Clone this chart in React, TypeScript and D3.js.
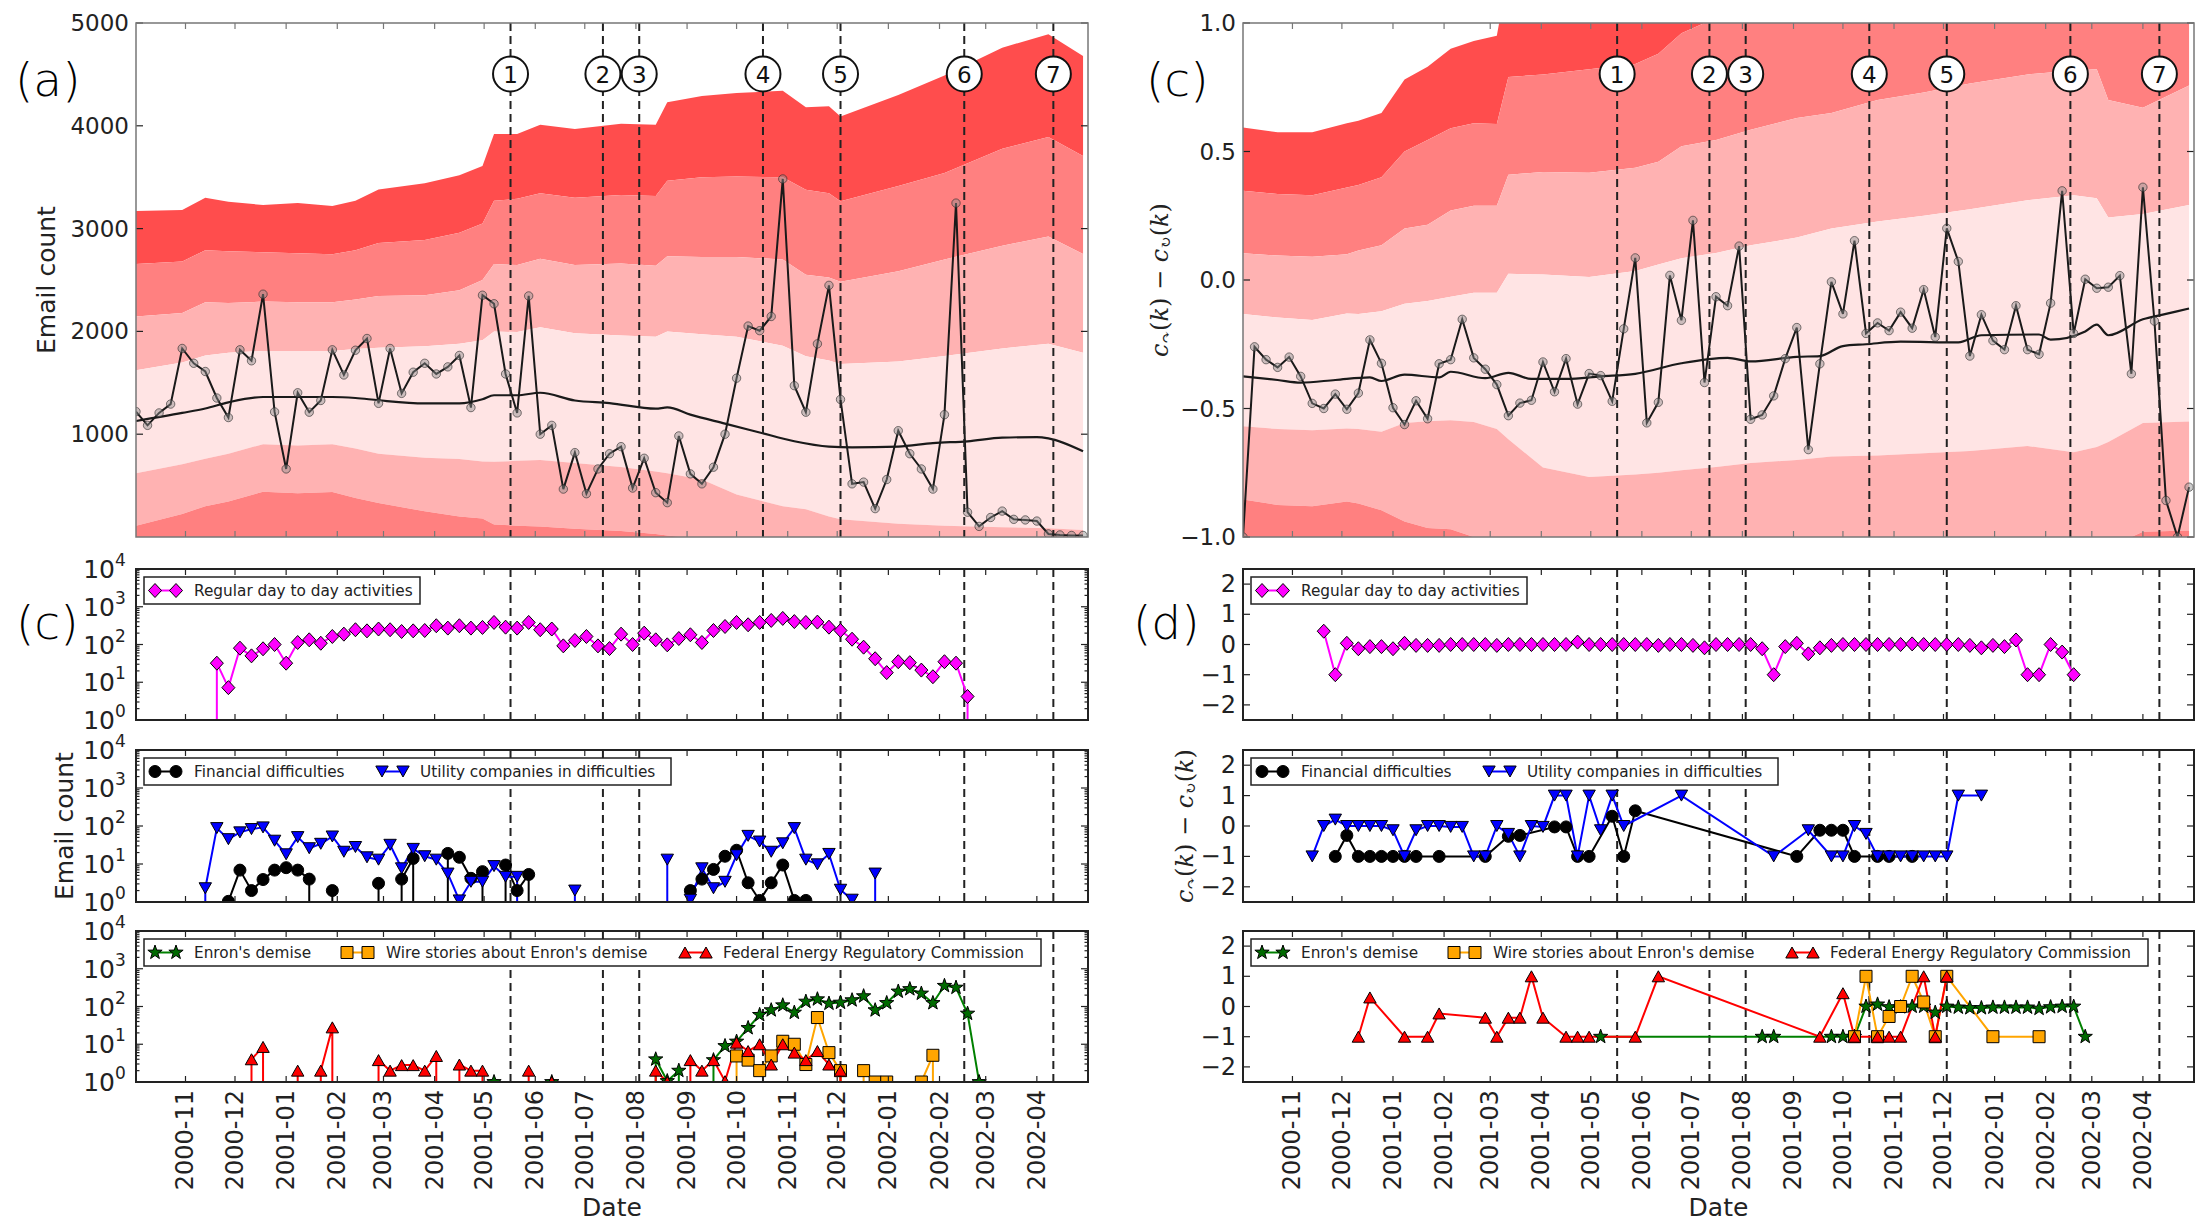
import React from "react";
import * as d3 from "d3";

// ---------- data (weekly bins from 2000-10-02) ----------
const START = new Date(2000, 9, 2);
const END = new Date(2002, 4, 2);
const N_WEEKS = 83;
const wk = (i: number) => d3.timeDay.offset(START, 7 * i);

const monthTicks = d3.timeMonth.range(new Date(2000, 10, 1), new Date(2002, 3, 2));
const parseDay = d3.timeParse("%Y-%m-%d");
const eventDates = ["2001-05-17", "2001-07-12", "2001-08-03", "2001-10-17", "2001-12-03", "2002-02-16", "2002-04-11"].map(
  (s) => parseDay(s) as Date
);
const eventLabels = ["1", "2", "3", "4", "5", "6", "7"];

// panel (a): weekly email count
const emailCount = [
  1220, 1086, 1207, 1293, 1834, 1690, 1610, 1352, 1162, 1821, 1714, 2362, 1217, 662, 1403, 1214, 1328, 1821, 1576, 1817,
  1931, 1300, 1834, 1397, 1603, 1690, 1586, 1655, 1766, 1259, 2352, 2269, 1586, 1207, 2345, 1000, 1086, 466, 821, 421,
  662, 810, 879, 476, 766, 431, 334, 983, 614, 517, 679, 1000, 1545, 2052, 2007, 2145, 3483, 1472, 1214, 1879, 2448,
  1338, 517, 534, 276, 559, 1034, 810, 662, 466, 1190, 3248, 241, 103, 190, 252, 172, 166, 155, 30, 20, 15, 15,
];
const countMeanWeeks = [0, 4, 6, 8, 11, 14, 17, 19, 21, 25, 28, 30, 31, 33, 35, 38, 41, 45, 46, 48, 51, 54, 57, 60, 62, 66, 69, 72, 75, 78, 79, 82];
const countMean = [1128, 1207, 1250, 1310, 1362, 1362, 1362, 1352, 1330, 1300, 1300, 1340, 1379, 1379, 1403, 1328, 1303, 1248, 1260, 1190, 1103, 1017, 931, 879, 872, 879, 914, 931, 966, 972, 960, 834];
const countBandWeeks = [0, 4, 6, 8, 11, 14, 17, 19, 21, 25, 28, 30, 31, 33, 35, 38, 42, 45, 46, 49, 52, 56, 58, 60, 61, 66, 70, 75, 79, 82];
const countUp3 = [3170, 3180, 3300, 3260, 3230, 3250, 3220, 3270, 3380, 3440, 3520, 3610, 3920, 3920, 4010, 3970, 4020, 4010, 4230, 4290, 4320, 4340, 4180, 4190, 4090, 4300, 4490, 4760, 4890, 4680];
const countUp2 = [2655, 2680, 2790, 2780, 2770, 2760, 2750, 2790, 2860, 2890, 2960, 3050, 3270, 3290, 3345, 3300, 3328, 3317, 3466, 3500, 3507, 3500, 3379, 3345, 3266, 3414, 3540, 3776, 3890, 3707];
const countUp1 = [2145, 2180, 2283, 2276, 2290, 2283, 2283, 2310, 2345, 2352, 2400, 2500, 2655, 2645, 2707, 2645, 2660, 2638, 2731, 2724, 2724, 2700, 2552, 2524, 2483, 2586, 2700, 2834, 2924, 2752];
const countUp0 = [1621, 1697, 1766, 1793, 1810, 1810, 1810, 1828, 1840, 1855, 1880, 1914, 2000, 1993, 2041, 1983, 1960, 1948, 2000, 1972, 1948, 1860, 1759, 1717, 1683, 1707, 1760, 1834, 1880, 1793];
const countLo0 = [621, 707, 760, 810, 903, 890, 903, 862, 810, 770, 759, 735, 731, 741, 748, 720, 680, 638, 620, 560, 414, 300, 270, 200, 172, 128, 110, 95, 86, 69];
const countLo1 = [110, 224, 300, 345, 441, 425, 438, 379, 330, 250, 200, 179, 121, 110, 103, 80, 59, 30, 15, -20, -60, -100, -120, -140, -150, -170, -190, -200, -210, -220];

// panel (c, top right): weekly c_cw(k) - c_ccw(k)
const diffValues = [
  -1.0, -0.26, -0.31, -0.34, -0.3, -0.375, -0.48, -0.5, -0.444, -0.503, -0.44, -0.233, -0.324, -0.497, -0.5625, -0.47,
  -0.54, -0.326, -0.31, -0.153, -0.303, -0.347, -0.407, -0.528, -0.479, -0.468, -0.319, -0.435, -0.306, -0.483, -0.364,
  -0.372, -0.472, -0.19, 0.086, -0.556, -0.476, 0.018, -0.157, 0.232, -0.399, -0.065, -0.1, 0.132, -0.542, -0.525,
  -0.451, -0.306, -0.185, -0.66, -0.326, -0.007, -0.132, 0.153, -0.208, -0.167, -0.197, -0.125, -0.1875, -0.0375,
  -0.222, 0.201, 0.072, -0.296, -0.135, -0.236, -0.271, -0.1, -0.271, -0.289, -0.09, 0.347, -0.208, 0.003, -0.032,
  -0.028, 0.017, -0.365, 0.361, -0.16, -0.858, -1.0, -0.806,
];
const diffMeanWeeks = [0, 3, 5, 8, 11, 12, 14, 17, 18, 21, 23, 25, 28, 31, 34, 38, 42, 44, 48, 50, 52, 54, 57, 62, 64, 69, 70, 73, 74, 75, 78, 80, 82];
const diffMean = [-0.375, -0.389, -0.399, -0.389, -0.379, -0.393, -0.368, -0.379, -0.357, -0.382, -0.361, -0.385, -0.385, -0.375, -0.365, -0.324, -0.303, -0.317, -0.299, -0.296, -0.257, -0.25, -0.24, -0.243, -0.215, -0.212, -0.232, -0.2, -0.174, -0.215, -0.153, -0.132, -0.111];
const diffBandWeeks = [0, 3, 6, 9, 10, 12, 14, 16, 18, 20, 22, 23, 26, 30, 34, 36, 38, 41, 44, 48, 51, 55, 59, 63, 68, 72, 74, 75, 78, 82];
const diffUp3 = [0.593, 0.575, 0.575, 0.61, 0.62, 0.65, 0.78, 0.83, 0.9, 0.93, 0.95, 1.2, 1.2, 1.2, 1.2, 1.2, 1.2, 1.2, 1.2, 1.2, 1.2, 1.2, 1.2, 1.2, 1.2, 1.2, 1.2, 1.2, 1.2, 1.2];
const diffUp2 = [0.347, 0.335, 0.33, 0.36, 0.37, 0.4, 0.5, 0.545, 0.59, 0.61, 0.607, 0.79, 0.8, 0.82, 0.84, 0.88, 0.96, 1.02, 1.1, 1.15, 1.15, 1.15, 1.15, 1.15, 1.15, 1.15, 1.15, 1.15, 1.15, 1.15];
const diffUp1 = [0.104, 0.095, 0.09, 0.1, 0.115, 0.135, 0.2, 0.215, 0.27, 0.289, 0.289, 0.41, 0.42, 0.417, 0.437, 0.46, 0.52, 0.545, 0.585, 0.63, 0.65, 0.7, 0.73, 0.765, 0.8, 0.815, 0.82, 0.7, 0.67, 0.757];
const diffUp0 = [-0.132, -0.146, -0.156, -0.13, -0.132, -0.122, -0.092, -0.082, -0.065, -0.05, -0.05, 0.024, 0.021, 0.012, 0.035, 0.06, 0.085, 0.105, 0.135, 0.165, 0.2, 0.228, 0.25, 0.275, 0.31, 0.33, 0.318, 0.243, 0.257, 0.292];
const diffLo0 = [-0.569, -0.58, -0.585, -0.578, -0.58, -0.59, -0.556, -0.55, -0.546, -0.553, -0.58, -0.62, -0.73, -0.767, -0.757, -0.75, -0.74, -0.728, -0.712, -0.7, -0.687, -0.683, -0.674, -0.665, -0.646, -0.67, -0.65, -0.63, -0.556, -0.551];
const diffLo1 = [-0.854, -0.875, -0.88, -0.862, -0.87, -0.896, -0.94, -0.965, -0.97, -1.0, -1.03, -1.05, -1.08, -1.08, -1.08, -1.08, -1.08, -1.08, -1.08, -1.08, -1.08, -1.08, -1.08, -1.08, -1.08, -1.08, -1.06, -1.04, -0.98, -0.975];

// panels (c) bottom-left: topic email counts (weeks not listed are zero)
const regularWeeks = d3.range(7, 73);
const regularCount = [32, 7.2, 80, 50, 77, 100, 32, 113, 133, 108, 163, 188, 246, 230, 257, 246, 221, 230, 235, 314, 272, 314, 272, 283, 384, 288, 272, 384, 246, 257, 92, 128, 163, 92, 78, 188, 100, 200, 133, 98, 144, 181, 113, 235, 300, 384, 333, 384, 434, 491, 405, 384, 392, 288, 235, 138, 85, 42, 18, 35, 33, 21, 14, 35, 32, 4.2];
const financialWeeks = [8, 9, 10, 11, 12, 13, 14, 15, 17, 21, 23, 24, 27, 28, 29, 30, 32, 33, 34, 48, 49, 50, 51, 52, 53, 54, 55, 56, 57, 58];
const financialCount = [1.04, 6.9, 2.0, 3.9, 6.9, 8.0, 6.9, 4.0, 2.0, 3.1, 4.0, 14, 19, 15, 4.2, 6.3, 9.4, 2.0, 5.3, 2.0, 4, 7.2, 16, 23, 3.2, 1.1, 3.2, 9.4, 1.1, 1.1];
const utilityWeeks = [6, 7, 8, 9, 10, 11, 12, 13, 14, 15, 16, 17, 18, 19, 20, 21, 22, 23, 24, 25, 26, 27, 28, 29, 30, 31, 32, 33, 38, 46, 48, 49, 50, 51, 52, 53, 54, 55, 56, 57, 58, 59, 60, 61, 62, 64];
const utilityCount = [2.3, 88, 45, 68, 83, 92, 41, 18, 51, 26, 34, 53, 21, 28, 15, 13, 32, 7.7, 25, 16, 13, 5.6, 1.1, 3.4, 3.4, 8.8, 4.6, 4.6, 2.0, 13, 1.15, 7.7, 2.3, 3.4, 17, 55, 39, 21, 35, 88, 13, 9.8, 18.4, 2.1, 1.15, 5.6];
const enronWeeks = [31, 36, 45, 46, 47, 50, 51, 52, 53, 54, 55, 56, 57, 58, 59, 60, 61, 62, 63, 64, 65, 66, 67, 68, 69, 70, 71, 72, 73];
const enronCount = [1, 1, 4.0, 1.06, 2.0, 3.8, 9.0, 11.8, 27, 60, 80, 108, 69, 135, 156, 120, 127, 147, 188, 80, 124, 250, 290, 221, 124, 354, 317, 65, 1];
const wireWeeks = [52, 53, 54, 55, 56, 57, 58, 59, 60, 61, 63, 64, 65, 68, 69];
const wireCount = [4.9, 3.8, 2.0, 4.9, 12, 10, 2.9, 51, 6.0, 2.0, 2.0, 1, 1, 1, 5.1];
const fercWeeks = [10, 11, 14, 16, 17, 21, 22, 23, 24, 25, 26, 28, 29, 30, 34, 36, 45, 46, 48, 49, 50, 51, 52, 53, 54, 55, 56, 57, 58, 59, 60, 61];
const fercCount = [4.0, 8.5, 2.0, 2.0, 28, 3.8, 2.0, 2.8, 2.8, 2.0, 4.9, 2.9, 2.0, 2.0, 2.0, 1, 2.0, 1.0, 3.8, 2.0, 3.8, 1.05, 11, 6.6, 10, 2.9, 10, 6.0, 3.8, 6.6, 2.9, 2.0];

// panels (d): topic c_cw(k) - c_ccw(k)
const regularDiff = [0.44, -1.0, 0.04, -0.14, -0.07, -0.07, -0.14, 0.04, -0.03, -0.03, -0.03, 0, 0, 0, 0, -0.03, 0, 0, 0, 0, 0, 0, 0.08, 0, 0, 0, 0, 0, 0, -0.03, 0, 0, -0.03, -0.11, 0, 0, 0, 0, -0.14, -1.0, -0.07, 0.04, -0.31, -0.11, -0.03, 0, 0, 0, 0, 0, 0, 0.02, 0, 0, 0, 0, -0.03, -0.11, -0.03, -0.07, 0.15, -1.0, -1.0, 0, -0.25, -1.0];
const financialDiffWeeks = [8, 9, 10, 11, 12, 13, 14, 15, 17, 21, 23, 24, 27, 28, 29, 30, 32, 33, 34, 48, 50, 51, 52, 53, 55, 56, 58];
const financialDiff = [-1, -0.31, -1, -1, -1, -1, -1, -1, -1, -1, -0.34, -0.31, -0.03, -0.03, -1, -1, 0.32, -1, 0.5, -1, -0.14, -0.14, -0.14, -1, -1, -1, -1];
const utilityDiffWeeks = [6, 7, 8, 9, 10, 11, 12, 13, 14, 15, 16, 17, 18, 19, 20, 21, 22, 23, 24, 25, 26, 27, 28, 29, 30, 31, 32, 33, 38, 46, 49, 51, 52, 53, 54, 55, 56, 57, 58, 59, 60, 61, 62, 64];
const utilityDiff = [-1, 0, 0.21, 0, 0, 0, 0, -0.14, -1, -0.14, 0, 0, -0.03, -0.03, -1, -1, 0, -0.26, -1, 0, -0.03, 1, 1, -1, 1, -0.14, 1, 0, 1, -1, -0.14, -1, -1, 0, -0.26, -1, -1, -1, -1, -1, -1, -1, 1, 1];
const enronDiffWeeks = [31, 45, 46, 51, 52, 53, 54, 55, 56, 57, 58, 59, 60, 61, 62, 63, 64, 65, 66, 67, 68, 69, 70, 71, 72, 73];
const enronDiff = [-1, -1, -1, -1, -1, -1, 0, 0.07, -0.02, -0.02, 0, 0, -0.2, 0, -0.03, -0.05, -0.05, -0.03, -0.03, -0.03, -0.03, -0.07, -0.02, 0, 0, -1];
const wireDiffWeeks = [53, 54, 55, 56, 57, 58, 59, 60, 61, 65, 69];
const wireDiff = [-1, 1, -1, -0.33, 0, 1, 0.15, -1, 1, -1, -1];
const fercDiffWeeks = [10, 11, 14, 16, 17, 21, 22, 23, 24, 25, 26, 28, 29, 30, 34, 36, 50, 52, 53, 55, 56, 57, 59, 60, 61];
const fercDiff = [-1, 0.3, -1, -1, -0.23, -0.37, -1, -0.37, -0.37, 1, -0.37, -1, -1, -1, -1, 1, -1, 0.44, -1, -1, -1, -1, 1, -1, 1];

// ---------- layout ----------
const W = 2201;
const H = 1223;
const FONT = "'DejaVu Sans', 'Liberation Sans', sans-serif";
const INK = "#222";
const BAND = { dark: "#ff4d4d", mid: "#ff8080", light: "#ffb2b2", pale: "#ffe4e4" };

const xL = d3.scaleTime().domain([START, END]).range([136, 1088]);
const xR = d3.scaleTime().domain([START, END]).range([1243, 2194]);
const TOP: [number, number] = [23, 537];
const MID: [number, number][] = [
  [569, 720],
  [750, 902],
  [931, 1082],
];

type Kind = "diamond" | "circle" | "tdown" | "tup" | "square" | "star";
const starPath =
  "M" +
  d3
    .range(10)
    .map((k) => {
      const a = -Math.PI / 2 + (k * Math.PI) / 5;
      const r = k % 2 === 0 ? 7.5 : 3.0;
      return `${(r * Math.cos(a)).toFixed(2)},${(r * Math.sin(a)).toFixed(2)}`;
    })
    .join("L") +
  "Z";
const shapes: Record<Kind, string> = {
  diamond: "M0,-7L6.5,0L0,7L-6.5,0Z",
  circle: "M-6,0A6,6 0 1,0 6,0A6,6 0 1,0 -6,0Z",
  tdown: "M0,5.5L6.2,-5.5L-6.2,-5.5Z",
  tup: "M0,-5.5L6.2,5.5L-6.2,5.5Z",
  square: "M-6,-6H6V6H-6Z",
  star: starPath,
};

type Series = { weeks: number[]; values: number[]; line: string; fill: string; kind: Kind; label: string };

const Marker = ({ kind, x, y, fill }: { kind: Kind; x: number; y: number; fill: string }) => (
  <path d={shapes[kind]} transform={`translate(${x},${y})`} fill={fill} stroke="#000" strokeWidth={1} />
);

function Frame({ xs, y0, y1, color, width }: { xs: any; y0: number; y1: number; color: string; width: number }) {
  const [x0, x1] = xs.range();
  return (
    <g>
      {monthTicks.map((d, i) => (
        <g key={i} stroke={color} strokeWidth={1.2}>
          <line x1={xs(d)} x2={xs(d)} y1={y1} y2={y1 - 6} />
          <line x1={xs(d)} x2={xs(d)} y1={y0} y2={y0 + 6} />
        </g>
      ))}
      <rect x={x0} y={y0} width={x1 - x0} height={y1 - y0} fill="none" stroke={color} strokeWidth={width} />
    </g>
  );
}

function EventLines({ xs, y0, y1 }: { xs: any; y0: number; y1: number }) {
  return (
    <g>
      {eventDates.map((d, i) => (
        <line key={i} x1={xs(d)} x2={xs(d)} y1={y0} y2={y1} stroke={INK} strokeWidth={2} strokeDasharray="8,5" />
      ))}
    </g>
  );
}

function YTicks({ x0, x1, ys, ticks, len }: { x0: number; x1: number; ys: any; ticks: number[]; len: number }) {
  return (
    <g stroke={INK} strokeWidth={1.2}>
      {ticks.map((t, i) => (
        <g key={i}>
          <line x1={x0} x2={x0 + len} y1={ys(t)} y2={ys(t)} />
          <line x1={x1} x2={x1 - len} y1={ys(t)} y2={ys(t)} />
        </g>
      ))}
    </g>
  );
}

function TopPanel(props: {
  id: string;
  xs: any;
  ys: any;
  bandWeeks: number[];
  bands: number[][];
  meanWeeks: number[];
  mean: number[];
  values: number[];
  yTicks: number[];
  yFmt: (v: number) => string;
}) {
  const { id, xs, ys } = props;
  const [x0, x1] = xs.range();
  const [yb, yt] = ys.range();
  const [u3, u2, u1, u0, l0, l1] = props.bands;
  const layers: [number[] | null, number[], string][] = [
    [u2, u3, BAND.dark],
    [u1, u2, BAND.mid],
    [u0, u1, BAND.light],
    [l0, u0, BAND.pale],
    [l1, l0, BAND.light],
    [null, l1, BAND.mid],
  ];
  const idx = d3.range(props.bandWeeks.length);
  const bx = (k: number) => xs(wk(props.bandWeeks[k]));
  const meanLine = d3
    .line<number>()
    .x((k) => xs(wk(props.meanWeeks[k])))
    .y((k) => ys(props.mean[k]))
    .curve(d3.curveMonotoneX);
  const dataLine = d3
    .line<number>()
    .x((v, i) => xs(wk(i)))
    .y((v) => ys(v));
  return (
    <g>
      <clipPath id={id}>
        <rect x={x0} y={yt} width={x1 - x0} height={yb - yt} />
      </clipPath>
      <g clipPath={`url(#${id})`}>
        {layers.map(([lo, hi, c], j) => {
          const area = d3
            .area<number>()
            .x(bx)
            .y0((k) => (lo ? ys(lo[k]) : yb + 20))
            .y1((k) => ys(hi[k]));
          return <path key={j} d={area(idx) || ""} fill={c} />;
        })}
        <path d={meanLine(d3.range(props.meanWeeks.length)) || ""} fill="none" stroke="#1a1a1a" strokeWidth={2.2} />
        <path d={dataLine(props.values) || ""} fill="none" stroke="#1a1a1a" strokeWidth={2} />
        {props.values.map((v, i) => (
          <circle key={i} cx={xs(wk(i))} cy={ys(v)} r={4.2} fill="rgba(140,140,140,0.45)" stroke="rgba(40,40,40,0.6)" strokeWidth={1} />
        ))}
      </g>
      <EventLines xs={xs} y0={yt} y1={yb} />
      <YTicks x0={x0} x1={x1} ys={ys} ticks={props.yTicks} len={7} />
      <Frame xs={xs} y0={yt} y1={yb} color="#777" width={1.5} />
      {props.yTicks.map((t, i) => (
        <text key={i} x={x0 - 7} y={ys(t)} textAnchor="end" dominantBaseline="central" fontSize={23} fill={INK}>
          {props.yFmt(t)}
        </text>
      ))}
      {eventDates.map((d, i) => (
        <g key={i}>
          <circle cx={xs(d)} cy={74} r={17.5} fill="#fff" stroke="#111" strokeWidth={2} />
          <text x={xs(d)} y={75} textAnchor="middle" dominantBaseline="central" fontSize={23} fill="#111">
            {eventLabels[i]}
          </text>
        </g>
      ))}
    </g>
  );
}

function Legend({ x, y, w, items, offs }: { x: number; y: number; w: number; items: Series[]; offs: [number, number][] }) {
  return (
    <g>
      <rect x={x + 8} y={y + 8} width={w} height={27} fill="#fff" stroke={INK} strokeWidth={1.5} />
      {items.map((s, i) => {
        const [m, t] = offs[i];
        const cy = y + 21.5;
        return (
          <g key={i}>
            <line x1={x + m} x2={x + m + 21} y1={cy} y2={cy} stroke={s.line} strokeWidth={2} />
            <Marker kind={s.kind} x={x + m} y={cy} fill={s.fill} />
            <Marker kind={s.kind} x={x + m + 21} y={cy} fill={s.fill} />
            <text x={x + t} y={cy} dominantBaseline="central" fontSize={15.3} fill={INK}>
              {s.label}
            </text>
          </g>
        );
      })}
    </g>
  );
}

const legendOffs: [number, number][][] = [
  [[19, 58]],
  [
    [19, 58],
    [246, 284],
  ],
  [
    [19, 58],
    [211, 250],
    [549, 587],
  ],
];
const legendWidths = [276, 527, 897];

function LogPanel({ id, xs, range, series, li }: { id: string; xs: any; range: [number, number]; series: Series[]; li: number }) {
  const [yt, yb] = range;
  const [x0, x1] = xs.range();
  const ys = d3.scaleLog().domain([1, 1e4]).range([yb, yt]);
  const majors = [1, 10, 100, 1000, 10000];
  const minors = [1, 10, 100, 1000].flatMap((d) => d3.range(2, 10).map((m) => d * m));
  return (
    <g>
      <clipPath id={id}>
        <rect x={x0} y={yt} width={x1 - x0} height={yb - yt} />
      </clipPath>
      <EventLines xs={xs} y0={yt} y1={yb} />
      <g clipPath={`url(#${id})`}>
        {series.map((s, j) => {
          const m = new Map(s.weeks.map((w, k) => [w, s.values[k]]));
          let d = "";
          for (let i = 0; i < N_WEEKS - 1; i++) {
            const a = m.get(i);
            const b = m.get(i + 1);
            if (a && b) d += `M${xs(wk(i))},${ys(a)}L${xs(wk(i + 1))},${ys(b)}`;
            else if (a && !b) d += `M${xs(wk(i))},${ys(a)}L${xs(wk(i))},${yb + 10}`;
            else if (!a && b) d += `M${xs(wk(i + 1))},${yb + 10}L${xs(wk(i + 1))},${ys(b)}`;
          }
          return <path key={j} d={d} fill="none" stroke={s.line} strokeWidth={2} />;
        })}
        {series.map((s, j) =>
          s.weeks.map((w, k) => <Marker key={`${j}-${k}`} kind={s.kind} x={xs(wk(w))} y={ys(s.values[k])} fill={s.fill} />)
        )}
      </g>
      <YTicks x0={x0} x1={x1} ys={ys} ticks={majors} len={7} />
      <YTicks x0={x0} x1={x1} ys={ys} ticks={minors} len={3.5} />
      <Frame xs={xs} y0={yt} y1={yb} color={INK} width={2} />
      {majors.map((t, i) => (
        <g key={i} fill={INK}>
          <text x={115} y={ys(t) + 9} textAnchor="end" fontSize={25}>
            10
          </text>
          <text x={115} y={ys(t) - 3} fontSize={17}>
            {String(Math.round(Math.log10(t)))}
          </text>
        </g>
      ))}
      <Legend x={x0} y={yt} w={legendWidths[li]} items={series} offs={legendOffs[li]} />
    </g>
  );
}

function DiffPanel({ id, xs, range, series, li }: { id: string; xs: any; range: [number, number]; series: Series[]; li: number }) {
  const [yt, yb] = range;
  const [x0, x1] = xs.range();
  const ys = d3.scaleLinear().domain([-2.5, 2.5]).range([yb, yt]);
  const ticks = [-2, -1, 0, 1, 2];
  return (
    <g>
      <clipPath id={id}>
        <rect x={x0} y={yt} width={x1 - x0} height={yb - yt} />
      </clipPath>
      <EventLines xs={xs} y0={yt} y1={yb} />
      <g clipPath={`url(#${id})`}>
        {series.map((s, j) => {
          const line = d3
            .line<number>()
            .x((w) => xs(wk(w)))
            .y((w, k) => ys(s.values[k]));
          return <path key={j} d={line(s.weeks) || ""} fill="none" stroke={s.line} strokeWidth={2} />;
        })}
        {series.map((s, j) =>
          s.weeks.map((w, k) => <Marker key={`${j}-${k}`} kind={s.kind} x={xs(wk(w))} y={ys(s.values[k])} fill={s.fill} />)
        )}
      </g>
      <YTicks x0={x0} x1={x1} ys={ys} ticks={ticks} len={7} />
      <Frame xs={xs} y0={yt} y1={yb} color={INK} width={2} />
      {ticks.map((t, i) => (
        <text key={i} x={x0 - 7} y={ys(t)} textAnchor="end" dominantBaseline="central" fontSize={24} fill={INK}>
          {String(t).replace("-", "\u2212")}
        </text>
      ))}
      <Legend x={x0} y={yt} w={legendWidths[li]} items={series} offs={legendOffs[li]} />
    </g>
  );
}

function XLabels({ xs }: { xs: any }) {
  const fmt = d3.timeFormat("%Y-%m");
  const [x0, x1] = xs.range();
  return (
    <g fill={INK}>
      {monthTicks.map((d, i) => (
        <text key={i} transform={`translate(${xs(d)},1090) rotate(-90)`} textAnchor="end" dominantBaseline="central" fontSize={24}>
          {fmt(d)}
        </text>
      ))}
      <text x={(x0 + x1) / 2} y={1216} textAnchor="middle" fontSize={25}>
        Date
      </text>
    </g>
  );
}

function DiffLabel({ x, y }: { x: number; y: number }) {
  return (
    <text transform={`translate(${x},${y}) rotate(-90)`} textAnchor="middle" dominantBaseline="central" fontFamily="'DejaVu Serif', serif" fontSize={24} fill={INK}>
      <tspan fontStyle="italic">c</tspan>
      <tspan fontSize={15} dy={6}>
        {"\u21B7"}
      </tspan>
      <tspan dy={-6}>(</tspan>
      <tspan fontStyle="italic">k</tspan>
      <tspan>{") \u2212 "}</tspan>
      <tspan fontStyle="italic">c</tspan>
      <tspan fontSize={15} dy={6}>
        {"\u21BB"}
      </tspan>
      <tspan dy={-6}>(</tspan>
      <tspan fontStyle="italic">k</tspan>
      <tspan>)</tspan>
    </text>
  );
}

const PanelTag = ({ x, y, t }: { x: number; y: number; t: string }) => (
  <text x={x} y={y} fontSize={47} fontWeight={200} fill="#000">
    {t}
  </text>
);

export default function App() {
  const regular: Series = { weeks: regularWeeks, values: regularCount, line: "#ff00ff", fill: "#ff00ff", kind: "diamond", label: "Regular day to day activities" };
  const financial: Series = { weeks: financialWeeks, values: financialCount, line: "#000", fill: "#000", kind: "circle", label: "Financial difficulties" };
  const utility: Series = { weeks: utilityWeeks, values: utilityCount, line: "#0000ff", fill: "#0000ff", kind: "tdown", label: "Utility companies in difficulties" };
  const enron: Series = { weeks: enronWeeks, values: enronCount, line: "#008000", fill: "#006a00", kind: "star", label: "Enron's demise" };
  const wire: Series = { weeks: wireWeeks, values: wireCount, line: "#ffa500", fill: "#ffa500", kind: "square", label: "Wire stories about Enron's demise" };
  const ferc: Series = { weeks: fercWeeks, values: fercCount, line: "#ff0000", fill: "#ff0000", kind: "tup", label: "Federal Energy Regulatory Commission" };

  const yA = d3.scaleLinear().domain([0, 5000]).range([TOP[1], TOP[0]]);
  const yC = d3.scaleLinear().domain([-1, 1]).range([TOP[1], TOP[0]]);

  return (
    <svg width={W} height={H} style={{ position: "absolute", left: 0, top: 0, background: "#fff" }} fontFamily={FONT}>
      <TopPanel
        id="clipA"
        xs={xL}
        ys={yA}
        bandWeeks={countBandWeeks}
        bands={[countUp3, countUp2, countUp1, countUp0, countLo0, countLo1]}
        meanWeeks={countMeanWeeks}
        mean={countMean}
        values={emailCount}
        yTicks={[1000, 2000, 3000, 4000, 5000]}
        yFmt={(v) => String(v)}
      />
      <TopPanel
        id="clipC"
        xs={xR}
        ys={yC}
        bandWeeks={diffBandWeeks}
        bands={[diffUp3, diffUp2, diffUp1, diffUp0, diffLo0, diffLo1]}
        meanWeeks={diffMeanWeeks}
        mean={diffMean}
        values={diffValues}
        yTicks={[-1, -0.5, 0, 0.5, 1]}
        yFmt={(v) => d3.format(".1f")(v).replace("-", "\u2212")}
      />

      <LogPanel id="clipL1" xs={xL} range={MID[0]} series={[regular]} li={0} />
      <LogPanel id="clipL2" xs={xL} range={MID[1]} series={[financial, utility]} li={1} />
      <LogPanel id="clipL3" xs={xL} range={MID[2]} series={[enron, wire, ferc]} li={2} />

      <DiffPanel id="clipR1" xs={xR} range={MID[0]} series={[{ ...regular, values: regularDiff }]} li={0} />
      <DiffPanel
        id="clipR2"
        xs={xR}
        range={MID[1]}
        series={[
          { ...financial, weeks: financialDiffWeeks, values: financialDiff },
          { ...utility, weeks: utilityDiffWeeks, values: utilityDiff },
        ]}
        li={1}
      />
      <DiffPanel
        id="clipR3"
        xs={xR}
        range={MID[2]}
        series={[
          { ...enron, weeks: enronDiffWeeks, values: enronDiff },
          { ...wire, weeks: wireDiffWeeks, values: wireDiff },
          { ...ferc, weeks: fercDiffWeeks, values: fercDiff },
        ]}
        li={2}
      />

      <XLabels xs={xL} />
      <XLabels xs={xR} />

      <text transform="translate(46,280) rotate(-90)" textAnchor="middle" dominantBaseline="central" fontSize={25} fill={INK}>
        Email count
      </text>
      <text transform="translate(64,826) rotate(-90)" textAnchor="middle" dominantBaseline="central" fontSize={25} fill={INK}>
        Email count
      </text>
      <DiffLabel x={1160} y={280} />
      <DiffLabel x={1185} y={826} />

      <PanelTag x={15} y={96} t="(a)" />
      <PanelTag x={1146} y={96} t="(c)" />
      <PanelTag x={16} y={639} t="(c)" />
      <PanelTag x={1133} y={639} t="(d)" />
    </svg>
  );
}
